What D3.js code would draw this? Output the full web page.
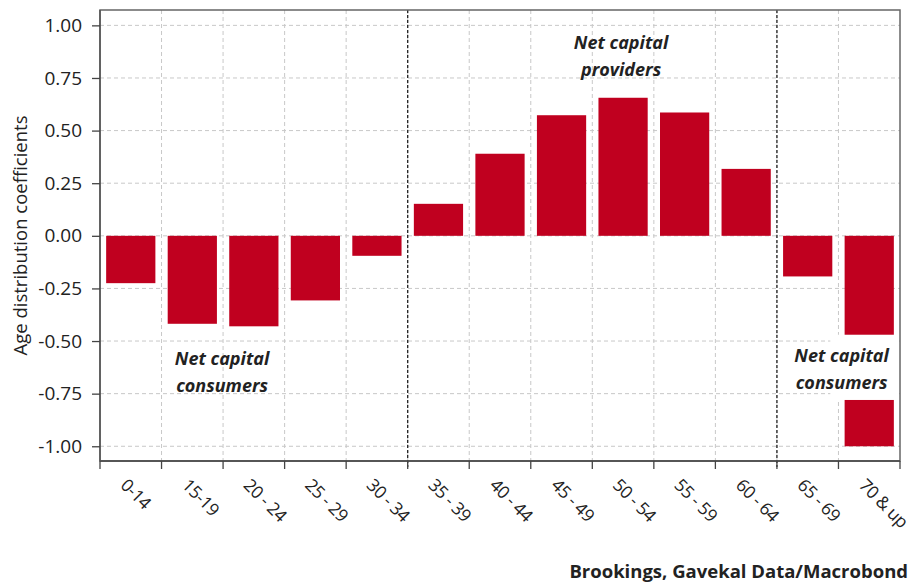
<!DOCTYPE html>
<html><head><meta charset="utf-8">
<script src="https://cdn.jsdelivr.net/npm/d3@7"></script>
<style>body{margin:0;background:#fff;} svg{display:block;}</style>
</head><body>
<svg id="c" width="918" height="586"></svg>
<script>
const categories = ["0-14","15-19","20 - 24","25 - 29","30 - 34","35 - 39","40 - 44","45 - 49","50 - 54","55 - 59","60 - 64","65 - 69","70 & up"];
const values = [-0.225,-0.418,-0.43,-0.307,-0.095,0.152,0.39,0.573,0.656,0.586,0.318,-0.193,-1.0];
const yTicks = [1.0,0.75,0.5,0.25,0,-0.25,-0.5,-0.75,-1.0];
const dividers = ["35 - 39","65 - 69"];
const yLabel = "Age distribution coefficients";
const source = "Brookings, Gavekal Data/Macrobond";

const svg = d3.select("#c");
const L=100,R=900,T=10,B=461;
const font = "'Open Sans', sans-serif";
const x = d3.scaleBand().domain(categories).range([L,R]).paddingInner(0.2).paddingOuter(0.1);
const y = d3.scaleLinear().domain([-1.07,1.073]).range([B,T]);
const bounds = categories.map((c,i)=> L + i*(R-L)/categories.length);

// gridlines
const g = svg.append("g");
g.selectAll(".hg").data(yTicks).join("line")
  .attr("x1",L).attr("x2",R).attr("y1",d=>y(d)).attr("y2",d=>y(d))
  .attr("stroke","#c8c8c8").attr("stroke-width",1).attr("stroke-dasharray","4,3");
g.selectAll(".vg").data(bounds.slice(1)).join("line")
  .attr("x1",d=>d).attr("x2",d=>d).attr("y1",T).attr("y2",B)
  .attr("stroke","#c8c8c8").attr("stroke-width",1).attr("stroke-dasharray","4,3");

// bars
svg.append("g").selectAll("rect").data(values).join("rect")
  .attr("x",(d,i)=>x(categories[i])).attr("width",x.bandwidth())
  .attr("y",d=>y(Math.max(0,d))).attr("height",d=>Math.abs(y(d)-y(0)))
  .attr("fill","#c0001f");

// dividers
const divX = dividers.map(c=>bounds[categories.indexOf(c)]);
svg.append("g").selectAll("line").data(divX).join("line")
  .attr("x1",d=>d).attr("x2",d=>d).attr("y1",T).attr("y2",B+6)
  .attr("stroke","#222").attr("stroke-width",1.3).attr("stroke-dasharray","3,2");

// frame
svg.append("rect").attr("x",L).attr("y",T).attr("width",R-L).attr("height",B-T)
  .attr("fill","none").attr("stroke","#666").attr("stroke-width",1.5);
svg.append("line").attr("x1",L).attr("x2",R).attr("y1",B).attr("y2",B).attr("stroke","#444").attr("stroke-width",1.5);
svg.append("line").attr("x1",L).attr("x2",L).attr("y1",T).attr("y2",B).attr("stroke","#555").attr("stroke-width",1.5);

// y axis
const fmt = d3.format(".2f");
const ya = svg.append("g").attr("transform",`translate(${L},0)`)
  .call(d3.axisLeft(y).tickValues(yTicks).tickFormat(d=>fmt(d).replace("\u2212","-")).tickSize(8).tickSizeOuter(0).tickPadding(10));
ya.select(".domain").remove();
ya.selectAll("line").attr("stroke","#444").attr("stroke-width",1.3);
ya.selectAll("text").attr("font-family",font).attr("font-size",19).attr("fill","#222");

// x ticks at boundaries
const xt = svg.append("g");
xt.selectAll("line").data(bounds.concat([R])).join("line")
  .attr("x1",d=>d).attr("x2",d=>d).attr("y1",B).attr("y2",B+8)
  .attr("stroke","#444").attr("stroke-width",1.3);
xt.selectAll("text").data(categories).join("text")
  .attr("transform",c=>`translate(${x(c)+x.bandwidth()/2-7},${B+21}) rotate(45)`)
  .attr("font-family",font).attr("font-size",17.5).attr("letter-spacing","-0.4px").attr("fill","#222")
  .attr("dy","0.35em").text(c=>c);

// y label
svg.append("text").attr("transform",`translate(27,${(T+B)/2}) rotate(-90)`)
  .attr("text-anchor","middle").attr("font-family",font).attr("font-size",18.5).attr("fill","#222")
  .text(yLabel);

// annotations
function annot(cx, y1, lines, bg){
  const gg = svg.append("g");
  if(bg){
    gg.append("rect").attr("x",bg[0]).attr("y",bg[1]).attr("width",bg[2]).attr("height",bg[3]).attr("fill","#fff");
  }
  lines.forEach((t,i)=>gg.append("text").attr("x",cx).attr("y",y1+i*27)
    .attr("text-anchor","middle").attr("font-family",font).attr("font-style","italic").attr("font-weight","bold")
    .attr("font-size",18).attr("fill","#222").text(t));
}
annot((bounds[1]+bounds[3])/2-1, 365, ["Net capital","consumers"]);
annot(x("50 - 54")+x.bandwidth()/2-2, 49, ["Net capital","providers"]);
const x65 = x("65 - 69");
annot(x("70 & up")-3, 362, ["Net capital","consumers"], [x65+x.bandwidth()-2, y(-0.47), R-1-(x65+x.bandwidth()-2), y(-0.78)-y(-0.47)]);

// source
svg.append("text").attr("x",908).attr("y",578).attr("text-anchor","end")
  .attr("font-family",font).attr("font-weight","bold").attr("font-size",18.5).attr("fill","#222").text(source);
</script>
</body></html>
